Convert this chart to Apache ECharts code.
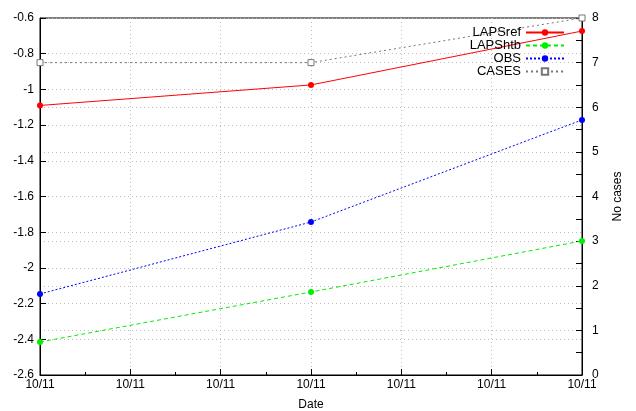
<!DOCTYPE html>
<html>
<head>
<meta charset="utf-8">
<script src="https://cdn.jsdelivr.net/npm/echarts@6/dist/echarts.min.js"></script>
<style>html,body{margin:0;padding:0;background:#fff}#chart{width:636px;height:411px}</style>
</head>
<body>
<div id="chart"></div>
<script>
var xPos = [0, 3, 6];
var tickLabel = '10/11';
var lapsRef = [-1.09, -0.975, -0.673];
var lapsHtb = [-2.415, -2.135, -1.849];
var obs = [-2.146, -1.743, -1.171];
var cases = [7, 7, 8];

function pts(vals) {
    return vals.map(function (v, i) { return [xPos[i], v]; });
}

var myChart = echarts.init(document.getElementById('chart'));
var font = 'Liberation Sans, Arial, sans-serif';
var gridLine = { show: true, lineStyle: { color: '#bbb', type: [1, 3], width: 1 } };
option = {
    animation: false,
    textStyle: { fontFamily: font },
    grid: {
        left: 40, right: 54, top: 18, bottom: 36,
        outerBoundsMode: 'none', containLabel: false,
        show: true, borderColor: '#000', borderWidth: 1, backgroundColor: 'transparent'
    },
    legend: {
        orient: 'vertical',
        right: 66,
        top: 21,
        align: 'right',
        itemGap: 0,
        itemWidth: 38,
        itemHeight: 8,
        textStyle: { fontSize: 13, color: '#000', fontFamily: font },
        data: ['LAPSref', 'LAPShtb', 'OBS', 'CASES']
    },
    xAxis: {
        type: 'value',
        min: 0, max: 6, interval: 1,
        name: 'Date', nameLocation: 'middle', nameGap: 24,
        nameTextStyle: { fontSize: 12, color: '#000' },
        axisLine: { lineStyle: { color: '#000' } },
        axisTick: { inside: true, length: 6, lineStyle: { color: '#000' } },
        minorTick: { show: true, splitNumber: 2, length: 3, lineStyle: { color: '#000' } },
        axisLabel: { color: '#000', fontSize: 12, margin: 4, formatter: function () { return tickLabel; } },
        splitLine: gridLine
    },
    yAxis: [{
        type: 'value',
        min: -2.6, max: -0.6, interval: 0.2,
        axisLine: { show: true, lineStyle: { color: '#000' } },
        axisTick: { show: true, inside: true, length: 6, lineStyle: { color: '#000' } },
        axisLabel: { color: '#000', fontSize: 12, margin: 6, formatter: function (v) { return +v.toFixed(1) + ''; } },
        splitLine: gridLine
    }, {
        type: 'value',
        min: 0, max: 8, interval: 1,
        name: 'No cases', nameLocation: 'middle', nameGap: 30, nameRotate: 90,
        nameTextStyle: { fontSize: 12, color: '#000' },
        axisLine: { show: true, lineStyle: { color: '#000' } },
        axisTick: { show: true, inside: true, length: 6, lineStyle: { color: '#000' } },
        minorTick: { show: true, splitNumber: 2, length: 6, lineStyle: { color: '#000' } },
        axisLabel: { color: '#000', fontSize: 12, margin: 10 },
        splitLine: gridLine
    }],
    series: [{
        name: 'LAPSref', type: 'line', data: pts(lapsRef),
        symbol: 'circle', symbolSize: 6,
        itemStyle: { color: '#ff0000' },
        lineStyle: { color: '#ff0000', width: 1 }
    }, {
        name: 'LAPShtb', type: 'line', data: pts(lapsHtb),
        symbol: 'circle', symbolSize: 6,
        itemStyle: { color: '#00ee00' },
        lineStyle: { color: '#00ee00', width: 1, type: [4, 3] }
    }, {
        name: 'OBS', type: 'line', data: pts(obs),
        symbol: 'circle', symbolSize: 6,
        itemStyle: { color: '#0000ff' },
        lineStyle: { color: '#0000ff', width: 1, type: [2, 2] }
    }, {
        name: 'CASES', type: 'line', yAxisIndex: 1, data: pts(cases),
        symbol: 'rect', symbolSize: 6,
        itemStyle: { color: '#fff', borderColor: '#777', borderWidth: 1 },
        lineStyle: { color: '#777', width: 1, type: [2, 3] }
    }]
};
myChart.setOption(option);
</script>
</body>
</html>
